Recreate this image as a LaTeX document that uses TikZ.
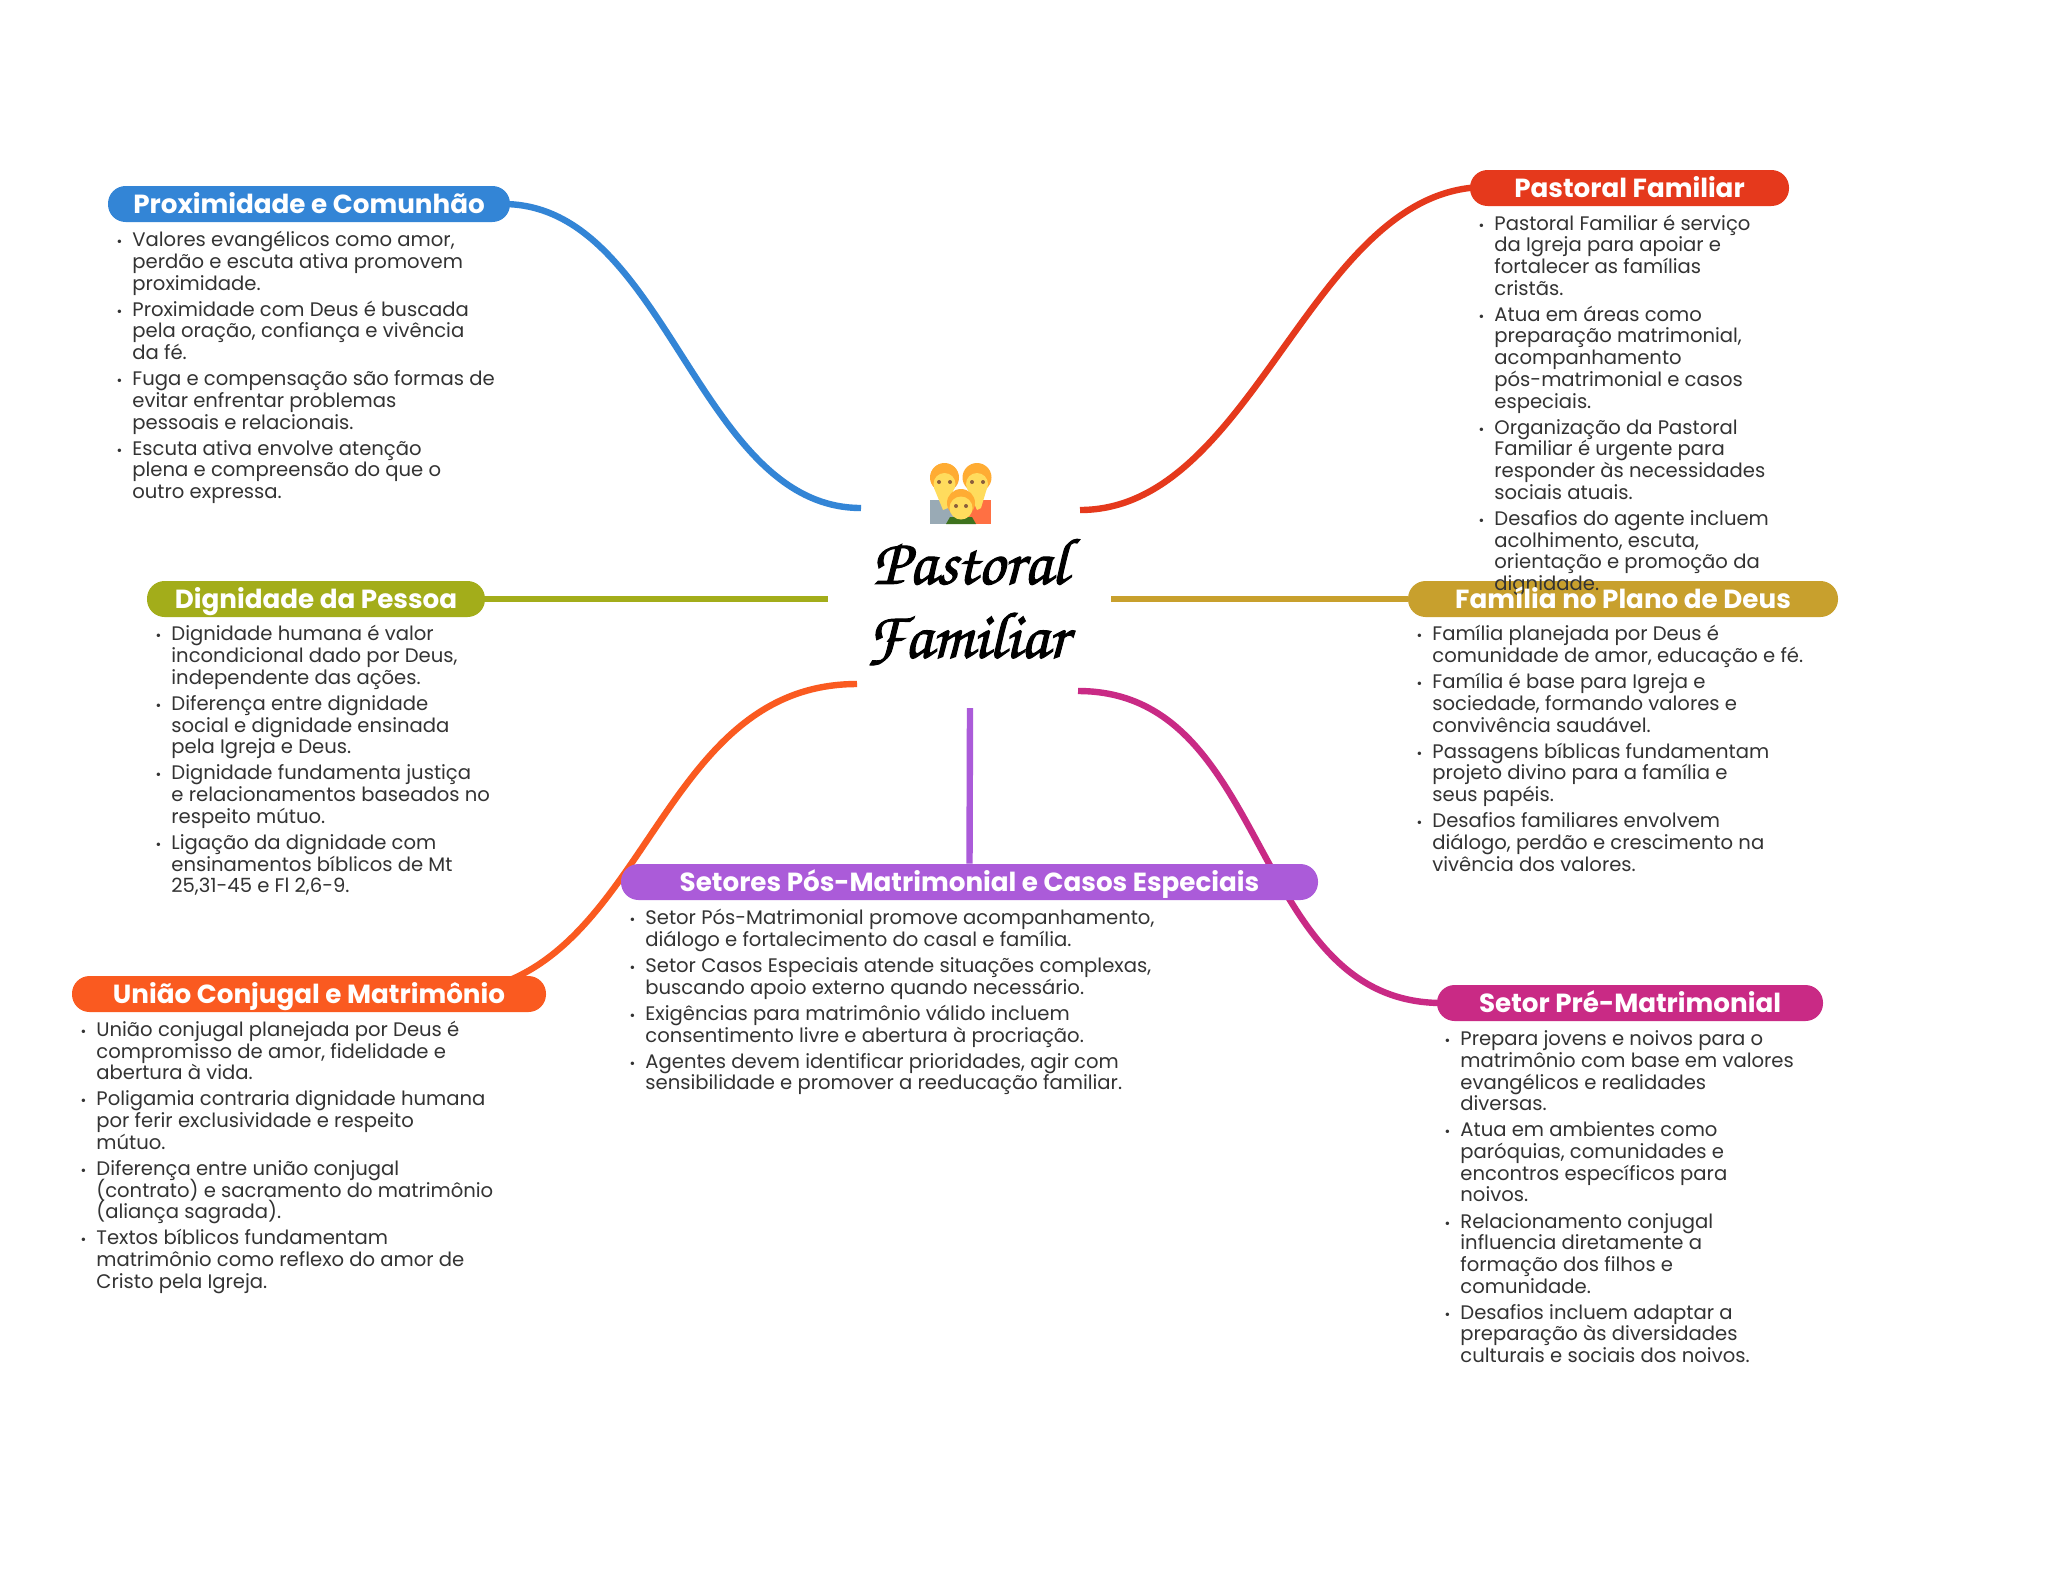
\documentclass[tikz,border=0pt]{standalone}
\usepackage{fontspec}
\setmainfont{Poppins}
\newfontfamily\rootfont[FakeBold=1.6]{TeX Gyre Chorus}
\usetikzlibrary{backgrounds}
\definecolor{cblue}{HTML}{3385D6}
\definecolor{cred}{HTML}{E5391C}
\definecolor{colive}{HTML}{A3AD1A}
\definecolor{cgold}{HTML}{C8A02D}
\definecolor{cpurple}{HTML}{AB5BD9}
\definecolor{corange}{HTML}{FA5A20}
\definecolor{cmag}{HTML}{C92A85}
\definecolor{cbody}{HTML}{333333}
\definecolor{egrey}{HTML}{99AAB5}
\definecolor{eorange}{HTML}{FF7043}
\definecolor{eskin}{HTML}{FFDC5D}
\definecolor{ehair}{HTML}{FFAC33}
\definecolor{egreen}{HTML}{3E721D}
\definecolor{eeye}{HTML}{8B5E3C}
\lineskiplimit=-20pt
\newcommand{\blt}{\strut\llap{{\fontsize{7}{7}\selectfont •}\hspace{5pt}}}
\newcommand{\gp}{\\[2.2pt]}
\tikzset{
  pill/.style={rounded corners=8.8pt,minimum height=18pt,inner sep=0pt,draw=none},
  ptitle/.style={text=white,font=\fontsize{13.1}{15}\selectfont\bfseries,inner sep=0pt,text height=12.3pt,text depth=3pt},
  body/.style={anchor=north west,inner sep=0pt,align=left,text=cbody,font=\fontsize{9.8}{10.85}\selectfont},
  link/.style={line width=3.2pt,line cap=butt},
  roottext/.style={font=\fontsize{33}{33}\selectfont\rootfont,inner sep=0pt,text=black}
}
\begin{document}
\begin{tikzpicture}[x=.5pt,y=-.5pt]
\useasboundingbox (0,0) rectangle (2048,1569);
% root
\node[roottext] (rootA) at (970,562) {Pastoral};
\node[roottext] (rootB) at (967,639) {Familiar};
% emoji
\begin{scope}
\fill[egrey] (930,500) rectangle (961,524);
\fill[eorange] (961,500) rectangle (991,524);
\fill[eskin] (934,488) -- (954,488) -- (948,508) -- (943,510) -- cycle;
\fill[eskin] (967,488) -- (987,488) -- (981,508) -- (977,510) -- cycle;
\fill[ehair] (944.5,477.5) circle[radius=7.25pt];
\fill[ehair] (977,477.5) circle[radius=7.25pt];
\fill[eskin] (944.5,484) circle[radius=5.5pt];
\fill[eskin] (977,484) circle[radius=5.5pt];
\fill[egreen] (946,524) -- (950,517) -- (972,517) -- (976,524) -- cycle;
\fill[ehair] (961,503) circle[radius=7pt];
\fill[eskin] (961,508) circle[radius=5.75pt];
\foreach \ex/\ey in {939/482,950/482,972/482,983/482,956/506,966/506}
  \fill[eeye] (\ex,\ey) circle[radius=1pt];
\end{scope}
% free ends
\coordinate (rBlue) at (861,508);
\coordinate (rRed) at (1080,510);
\coordinate (rOlive) at (828,599);
\coordinate (rGold) at (1111,599);
\coordinate (rOrange) at (857,684);
\coordinate (rMag) at (1078,691);
\coordinate (rPurple) at (970,708);
\coordinate (eBlue) at (503,204);
\coordinate (eRed) at (1486,187);
\coordinate (eOrange) at (439,994);
\coordinate (eMag) at (1442,1003);
% pills
\node[pill,fill=cblue,minimum width=201pt] (prox) at (309,204) {};
\node[pill,fill=cred,minimum width=159.5pt] (past) at (1629.5,188) {};
\node[pill,fill=colive,minimum width=169pt] (dign) at (316,599) {};
\node[pill,fill=cgold,minimum width=215pt] (fam) at (1623,599) {};
\node[pill,fill=cpurple,minimum width=348.5pt] (seto) at (969.5,882) {};
\node[pill,fill=corange,minimum width=237pt] (uni) at (309,994) {};
\node[pill,fill=cmag,minimum width=193pt] (pre) at (1630,1003) {};
% connectors
\begin{scope}[on background layer]
\fill[white] (0,0) rectangle (2048,1569);
\draw[link,cblue] (eBlue) .. controls (667,204) and (697,508) .. (rBlue);
\draw[link,cred] (eRed) .. controls (1311,187) and (1255,510) .. (rRed);
\draw[link,colive] (dign.east) -- (rOlive);
\draw[link,cgold] (fam.west) -- (rGold);
\draw[link,corange] (eOrange) .. controls (648,994) and (648,684) .. (rOrange);
\draw[link,cmag] (eMag) .. controls (1247,1003) and (1273,691) .. (rMag);
\draw[link,cpurple] (seto.north) -- (rPurple);
\end{scope}
% bodies
\node[body] (bProx) at (132,231) {\blt Valores evangélicos como amor,\\perdão e escuta ativa promovem\\proximidade.\gp
\blt Proximidade com Deus é buscada\\pela oração, confiança e vivência\\da fé.\gp
\blt Fuga e compensação são formas de\\evitar enfrentar problemas\\pessoais e relacionais.\gp
\blt Escuta ativa envolve atenção\\plena e compreensão do que o\\outro expressa.};
\node[body] (bPast) at (1494,214.3) {\blt Pastoral Familiar é serviço\\da Igreja para apoiar e\\fortalecer as famílias\\cristãs.\gp
\blt Atua em áreas como\\preparação matrimonial,\\acompanhamento\\pós-matrimonial e casos\\especiais.\gp
\blt Organização da Pastoral\\Familiar é urgente para\\responder às necessidades\\sociais atuais.\gp
\blt Desafios do agente incluem\\acolhimento, escuta,\\orientação e promoção da\\dignidade.};
\node[body] (bDign) at (171,625.2) {\blt Dignidade humana é valor\\incondicional dado por Deus,\\independente das ações.\gp
\blt Diferença entre dignidade\\social e dignidade ensinada\\pela Igreja e Deus.\gp
\blt Dignidade fundamenta justiça\\e relacionamentos baseados no\\respeito mútuo.\gp
\blt Ligação da dignidade com\\ensinamentos bíblicos de Mt\\25,31-45 e Fl 2,6-9.};
\node[body] (bFam) at (1432,625.2) {\blt Família planejada por Deus é\\comunidade de amor, educação e fé.\gp
\blt Família é base para Igreja e\\sociedade, formando valores e\\convivência saudável.\gp
\blt Passagens bíblicas fundamentam\\projeto divino para a família e\\seus papéis.\gp
\blt Desafios familiares envolvem\\diálogo, perdão e crescimento na\\vivência dos valores.};
\node[body] (bSeto) at (645,909) {\blt Setor Pós-Matrimonial promove acompanhamento,\\diálogo e fortalecimento do casal e família.\gp
\blt Setor Casos Especiais atende situações complexas,\\buscando apoio externo quando necessário.\gp
\blt Exigências para matrimônio válido incluem\\consentimento livre e abertura à procriação.\gp
\blt Agentes devem identificar prioridades, agir com\\sensibilidade e promover a reeducação familiar.};
\node[body] (bUni) at (96,1020.7) {\blt União conjugal planejada por Deus é\\compromisso de amor, fidelidade e\\abertura à vida.\gp
\blt Poligamia contraria dignidade humana\\por ferir exclusividade e respeito\\mútuo.\gp
\blt Diferença entre união conjugal\\(contrato) e sacramento do matrimônio\\(aliança sagrada).\gp
\blt Textos bíblicos fundamentam\\matrimônio como reflexo do amor de\\Cristo pela Igreja.};
\node[body] (bPre) at (1460,1030) {\blt Prepara jovens e noivos para o\\matrimônio com base em valores\\evangélicos e realidades\\diversas.\gp
\blt Atua em ambientes como\\paróquias, comunidades e\\encontros específicos para\\noivos.\gp
\blt Relacionamento conjugal\\influencia diretamente a\\formação dos filhos e\\comunidade.\gp
\blt Desafios incluem adaptar a\\preparação às diversidades\\culturais e sociais dos noivos.};
% titles
\node[ptitle] (tProx) at (prox) {Proximidade e Comunhão};
\node[ptitle] (tPast) at (past) {Pastoral Familiar};
\node[ptitle] (tDign) at (dign) {Dignidade da Pessoa};
\node[ptitle] (tFam) at (fam) {Família no Plano de Deus};
\node[ptitle] (tSeto) at (seto) {Setores Pós-Matrimonial e Casos Especiais};
\node[ptitle] (tUni) at (uni) {União Conjugal e Matrimônio};
\node[ptitle] (tPre) at (pre) {Setor Pré-Matrimonial};
\end{tikzpicture}
\end{document}
